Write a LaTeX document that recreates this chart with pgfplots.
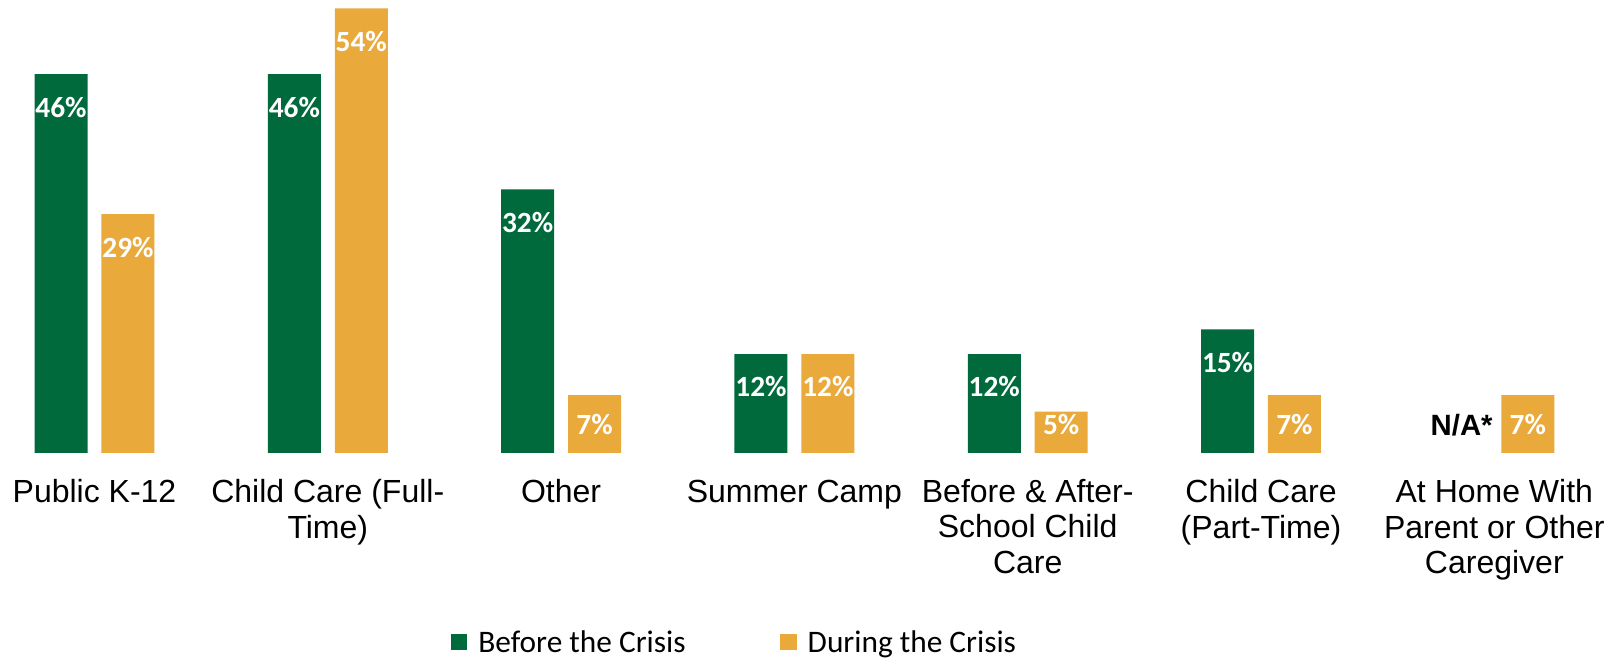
\documentclass[border=0pt]{standalone}
\usepackage{fontspec}
\setmainfont{Liberation Sans}
\newfontfamily\carlito{Carlito}
\usepackage{pgfplots}
\pgfplotsset{compat=1.18}
\usepackage{pgfplotstable}
\definecolor{cgreen}{RGB}{0,106,61}
\definecolor{corange}{RGB}{233,169,59}

\pgfplotstableread{
x before during
0 46 29
1 46 54
2 32 7
3 12 12
4 12 5
5 15 7
6 nan 7
}\bars

\pgfplotstableread{
x ly lab
0 42.0 46
1 42.0 46
2 28.0 32
3 8.0 12
4 8.0 12
5 11.0 15
}\blabels

\pgfplotstableread{
x ly lab
0 25.0 29
1 50.0 54
2 3.4 7
3 8.0 12
4 3.4 5
5 3.4 7
6 3.4 7
}\dlabels

\begin{document}
\begin{tikzpicture}
\begin{axis}[
  scale only axis, width=1215.75pt, height=495pt,
  xmin=-0.405, xmax=6.543, ymin=-25.17, ymax=55.01,
  axis line style={draw=none}, tick style={draw=none}, ytick=\empty,
  xtick={0,1,2,3,4,5,6},
  xticklabels={{Public K-12},{Child Care (Full-\\Time)},{Other},{Summer Camp},{Before \& After-\\School Child\\Care},{Child Care\\(Part-Time)},{At Home With\\Parent or Other\\Caregiver}},
  xticklabel style={align=center, anchor=north, inner sep=0pt, yshift=135.75pt,
    font=\fontsize{24pt}{26.7pt}\selectfont, execute at begin node={\vphantom{Al}}},
  legend columns=2,
  legend style={at={(axis description cs:0.278,0.027)}, anchor=west, draw=none, fill=none,
    inner sep=0pt, font=\carlito\fontsize{23.5pt}{26pt}\selectfont,
    nodes={inner sep=0pt},
    /tikz/every odd column/.append style={column sep=8.25pt},
    /tikz/every even column/.append style={column sep=71pt}},
]
\addplot[ybar, bar width=39.75pt, bar shift=-25.1pt, fill=cgreen, draw=none,
  legend image code/.code={\fill[cgreen] (0pt,-6.2pt) rectangle (12.4pt,6.2pt);}]
  table[x=x, y=before] {\bars};
\addlegendentry{Before the Crisis}
\addplot[ybar, bar width=39.75pt, bar shift=25.1pt, fill=corange, draw=none,
  legend image code/.code={\fill[corange] (0pt,-6.2pt) rectangle (12.4pt,6.2pt);}]
  table[x=x, y=during] {\bars};
\addlegendentry{During the Crisis}

\addplot[draw=none, forget plot, point meta=explicit symbolic,
  nodes near coords={\pgfplotspointmeta\%},
  nodes near coords style={anchor=center, xshift=-25.1pt, inner sep=0pt, text=white,
    font=\carlito\bfseries\fontsize{22pt}{24pt}\selectfont}]
  table[x=x, y=ly, meta=lab] {\blabels};
\addplot[draw=none, forget plot, point meta=explicit symbolic,
  nodes near coords={\pgfplotspointmeta\%},
  nodes near coords style={anchor=center, xshift=25.1pt, inner sep=0pt, text=white,
    font=\carlito\bfseries\fontsize{22pt}{24pt}\selectfont}]
  table[x=x, y=ly, meta=lab] {\dlabels};
\addplot[draw=none, forget plot, point meta=explicit symbolic,
  nodes near coords={\pgfplotspointmeta},
  nodes near coords style={anchor=center, xshift=-24.5pt, inner sep=0pt, text=black,
    font=\bfseries\fontsize{22pt}{24pt}\selectfont}]
  coordinates {(6,3.4) [N/A*]};
\end{axis}
\end{tikzpicture}
\end{document}
